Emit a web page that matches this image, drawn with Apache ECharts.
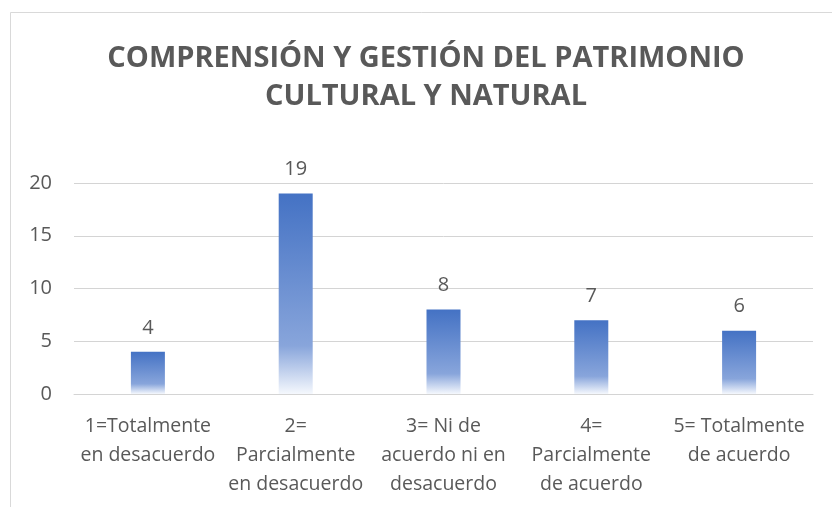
<!DOCTYPE html>
<html lang="es">
<head>
  <meta charset="UTF-8">
  <title>Comprensión y gestión del patrimonio cultural y natural</title>
  <script src="https://cdn.jsdelivr.net/npm/echarts@6/dist/echarts.min.js"></script>
  <style>
    html, body { margin: 0; padding: 0; background: #fff; }
  </style>
</head>
<body>
  <div id="main" style="width: 832px; height: 507px;"></div>

  <script>
    // Chart data
    const categories = [
      '1=Totalmente\nen desacuerdo',
      '2=\nParcialmente\nen desacuerdo',
      '3= Ni de\nacuerdo ni en\ndesacuerdo',
      '4=\nParcialmente\nde acuerdo',
      '5= Totalmente\nde acuerdo'
    ];
    const counts = [4, 19, 8, 7, 6];
    const yTicks = [0, 5, 10, 15, 20];

    const textColor = '#595959';
    const font = '"Open Sans", sans-serif';

    const myChart = echarts.init(document.getElementById('main'));

    const options = {
      backgroundColor: '#fff',
      textStyle: { fontFamily: font },
      graphic: [{
        // light chart-area border
        type: 'rect',
        shape: { x: 10.5, y: 12.5, width: 840, height: 520 },
        style: { fill: 'none', stroke: '#d9d9d9', lineWidth: 1 },
        silent: true
      }],
      title: {
        text: 'COMPRENSIÓN Y GESTIÓN DEL PATRIMONIO\nCULTURAL Y NATURAL',
        left: 421,
        top: 35,
        textAlign: 'center',
        textStyle: {
          fontFamily: font,
          fontWeight: 'bold',
          fontSize: 29,
          lineHeight: 38,
          color: textColor
        }
      },
      grid: { left: 74, right: 19, top: 183, bottom: 113 },
      xAxis: {
        type: 'category',
        data: categories,
        axisTick: { show: false },
        axisLine: { lineStyle: { color: '#d4d4d4', width: 1 } },
        axisLabel: {
          interval: 0,
          margin: 18,
          fontSize: 19.5,
          lineHeight: 29,
          color: textColor,
          fontFamily: font
        }
      },
      yAxis: {
        type: 'value',
        min: yTicks[0],
        max: yTicks[yTicks.length - 1],
        interval: 5,
        axisLine: { show: false },
        axisTick: { show: false },
        splitLine: { lineStyle: { color: '#d4d4d4', width: 1 } },
        axisLabel: {
          margin: 22,
          fontSize: 20,
          color: textColor,
          fontFamily: font
        }
      },
      series: [{
        type: 'bar',
        data: counts,
        barWidth: '23%',
        itemStyle: {
          color: new echarts.graphic.LinearGradient(0, 0, 0, 1, [
            { offset: 0, color: '#4472C4' },
            { offset: 0.76, color: '#88A5DB' },
            { offset: 1, color: '#F5F8FD' }
          ])
        },
        label: {
          show: true,
          position: 'top',
          distance: 14,
          fontSize: 20,
          color: textColor,
          fontFamily: font
        }
      }]
    };

    myChart.setOption(options);
  </script>
</body>
</html>
